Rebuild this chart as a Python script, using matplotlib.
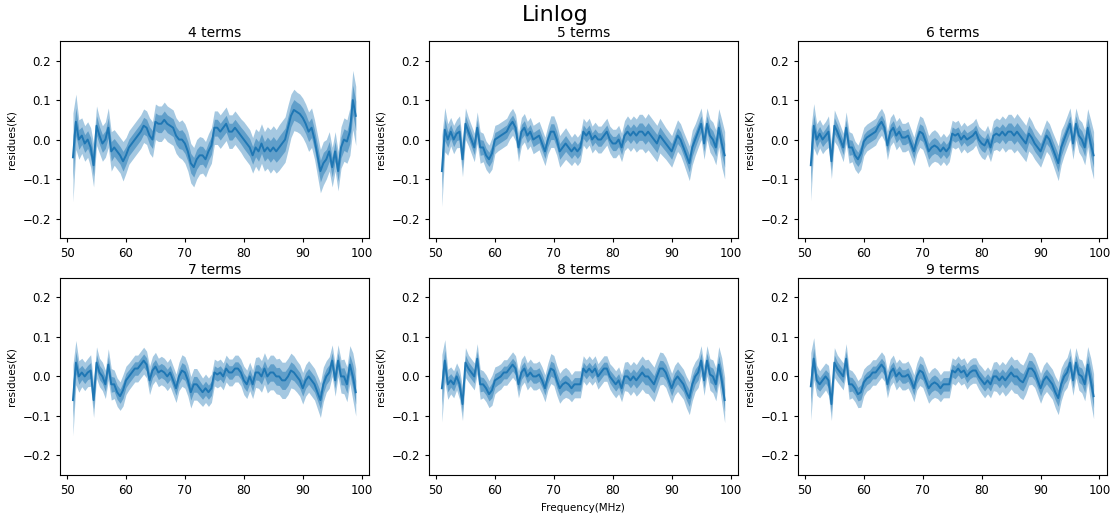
import numpy as np
import matplotlib
matplotlib.use('Agg')
import matplotlib.pyplot as plt

# Frequency grid (MHz), 0.5 MHz steps
freq = np.arange(51.0, 99.01, 0.5)

# Mean residues (K) for each number of fit terms
res_4 = [-0.045, 0.045, 0.0, 0.01, -0.01, 0.0, -0.02, -0.065, 0.035, 0.01,
         -0.01, 0.0, 0.03, -0.03, -0.02, -0.03, -0.04, -0.055, -0.04, -0.02,
         -0.01, 0.0, 0.01, 0.02, 0.035, 0.03, 0.01, 0.0, 0.045, 0.04,
         0.04, 0.05, 0.04, 0.035, 0.03, 0.01, 0.0, 0.0, -0.01, -0.03,
         -0.06, -0.07, -0.05, -0.04, -0.04, -0.05, -0.03, -0.015, 0.03, 0.03,
         0.02, 0.03, 0.04, 0.02, 0.02, 0.03, 0.02, 0.01, 0.0, -0.01,
         -0.02, -0.04, -0.02, -0.03, -0.01, -0.03, -0.02, -0.03, -0.02, -0.03,
         -0.02, -0.01, 0.0, 0.03, 0.06, 0.075, 0.07, 0.065, 0.055, 0.04,
         0.02, 0.03, 0.0, -0.04, -0.08, -0.06, -0.05, -0.03, -0.07, -0.03,
         -0.08, -0.02, 0.0, -0.005, 0.02, 0.1, 0.06]

res_5 = [-0.08, 0.025, 0.0, 0.02, 0.0, 0.015, 0.02, -0.05, 0.04, 0.02,
         0.0, -0.02, 0.03, -0.02, -0.02, -0.04, -0.05, -0.035, 0.0, 0.005,
         0.01, 0.015, 0.02, 0.035, 0.045, 0.03, -0.02, 0.02, 0.03, 0.01,
         0.02, 0.0, 0.005, 0.01, -0.01, -0.03, 0.0, 0.02, 0.02, 0.0,
         -0.03, -0.02, -0.01, -0.02, -0.03, -0.02, -0.03, -0.02, 0.02, 0.01,
         0.02, 0.0, 0.01, 0.0, 0.0, 0.01, 0.02, 0.0, -0.01, -0.01,
         0.0, -0.02, 0.01, 0.02, 0.01, 0.02, 0.01, 0.02, 0.02, 0.01,
         0.02, 0.01, 0.0, -0.01, 0.01, 0.0, -0.01, -0.02, -0.03, -0.01,
         0.01, 0.0, -0.02, -0.04, -0.06, -0.02, 0.0, 0.02, 0.04, -0.01,
         0.04, 0.01, 0.0, -0.02, 0.03, -0.01, -0.04]

res_6 = [-0.065, 0.035, 0.0, 0.015, 0.0, 0.01, 0.02, -0.055, 0.035, 0.02,
         0.0, -0.02, 0.03, -0.02, -0.02, -0.04, -0.05, -0.035, -0.005, 0.005,
         0.01, 0.015, 0.02, 0.035, 0.045, 0.03, -0.015, 0.02, 0.03, 0.01,
         0.02, 0.005, 0.005, 0.01, -0.01, -0.03, 0.0, 0.02, 0.015, -0.005,
         -0.03, -0.02, -0.015, -0.02, -0.03, -0.02, -0.03, -0.02, 0.015, 0.01,
         0.015, 0.0, 0.01, 0.0, 0.005, 0.01, 0.02, 0.0, -0.01, -0.015,
         0.0, -0.02, 0.01, 0.015, 0.01, 0.02, 0.01, 0.02, 0.02, 0.01,
         0.02, 0.01, 0.0, -0.01, 0.015, 0.005, -0.01, -0.02, -0.03, -0.01,
         0.01, 0.0, -0.02, -0.04, -0.06, -0.02, 0.0, 0.02, 0.04, -0.01,
         0.04, 0.01, 0.0, -0.02, 0.03, -0.01, -0.04]

res_7 = [-0.06, 0.035, 0.0, 0.01, 0.0, 0.01, 0.015, -0.06, 0.035, 0.01,
         0.0, -0.02, 0.03, -0.02, -0.02, -0.04, -0.05, -0.035, -0.01, 0.0,
         0.01, 0.02, 0.02, 0.03, 0.04, 0.03, -0.01, 0.015, 0.025, 0.01,
         0.015, 0.01, 0.0, 0.01, -0.01, -0.03, 0.0, 0.015, 0.01, -0.01,
         -0.04, -0.02, -0.02, -0.03, -0.04, -0.03, -0.04, -0.03, 0.01, 0.005,
         0.01, 0.0, 0.02, 0.01, 0.01, 0.02, 0.02, 0.01, -0.01, -0.02,
         0.0, -0.02, 0.01, 0.01, 0.0, 0.02, 0.0, 0.01, 0.01, 0.0,
         0.0, -0.01, -0.01, 0.0, 0.015, 0.01, 0.0, -0.01, -0.03, -0.01,
         0.0, -0.01, -0.02, -0.04, -0.06, -0.02, 0.0, 0.01, 0.04, -0.01,
         0.04, 0.0, 0.0, -0.02, 0.03, 0.0, -0.04]

res_8 = [-0.03, 0.04, -0.02, -0.01, -0.02, 0.0, -0.02, -0.07, 0.035, 0.02,
         0.01, 0.0, 0.045, -0.02, -0.02, -0.03, -0.045, -0.035, -0.01, -0.005,
         0.0, 0.01, 0.01, 0.02, 0.03, 0.02, -0.02, 0.01, 0.02, 0.0,
         0.01, 0.0, 0.0, 0.005, -0.01, -0.03, 0.0, 0.02, 0.015, -0.01,
         -0.03, -0.02, -0.015, -0.02, -0.03, -0.02, -0.02, -0.02, 0.02, 0.01,
         0.02, 0.01, 0.02, 0.0, 0.01, 0.02, 0.02, 0.0, -0.01, -0.02,
         -0.01, -0.03, 0.0, 0.0, -0.01, 0.0, -0.01, 0.0, 0.01, 0.0,
         0.0, -0.01, -0.02, 0.0, 0.02, 0.02, 0.01, -0.01, -0.03, -0.01,
         0.0, -0.01, -0.02, -0.04, -0.055, -0.02, 0.0, 0.01, 0.04, -0.01,
         0.04, 0.005, 0.0, -0.02, 0.03, -0.01, -0.06]

res_9 = [-0.025, 0.045, -0.01, -0.02, -0.01, 0.0, -0.01, -0.07, 0.035, 0.02,
         0.01, 0.0, 0.045, -0.02, -0.02, -0.03, -0.045, -0.04, -0.015, -0.005,
         0.0, 0.01, 0.01, 0.02, 0.03, 0.02, -0.02, 0.01, 0.02, 0.0,
         0.01, 0.0, 0.0, 0.005, -0.01, -0.03, 0.0, 0.015, 0.01, -0.01,
         -0.03, -0.02, -0.015, -0.02, -0.03, -0.02, -0.02, -0.02, 0.015, 0.01,
         0.02, 0.01, 0.015, 0.0, 0.01, 0.015, 0.015, 0.0, -0.01, -0.02,
         -0.01, -0.02, 0.0, 0.0, -0.01, 0.0, -0.01, 0.0, 0.01, 0.0,
         0.0, -0.01, -0.015, 0.0, 0.02, 0.02, 0.01, -0.01, -0.03, -0.01,
         0.0, -0.01, -0.02, -0.04, -0.055, -0.02, 0.0, 0.01, 0.035, -0.01,
         0.035, 0.005, 0.0, -0.02, 0.03, -0.01, -0.05]

# 1-sigma spread of the residues along the band
sigma = [0.045, 0.028, 0.02, 0.018, 0.018, 0.018, 0.02, 0.022, 0.02, 0.018,
         0.018, 0.018, 0.02, 0.02, 0.018, 0.018, 0.018, 0.02, 0.018, 0.017,
         0.017, 0.017, 0.017, 0.017, 0.017, 0.017, 0.018, 0.018, 0.018, 0.018,
         0.018, 0.018, 0.018, 0.018, 0.018, 0.018, 0.018, 0.02, 0.02, 0.02,
         0.02, 0.02, 0.02, 0.019, 0.018, 0.018, 0.018, 0.018, 0.017, 0.017,
         0.017, 0.017, 0.017, 0.017, 0.017, 0.017, 0.017, 0.017, 0.018, 0.018,
         0.018, 0.018, 0.019, 0.02, 0.02, 0.02, 0.021, 0.022, 0.022, 0.022,
         0.023, 0.023, 0.023, 0.023, 0.022, 0.021, 0.02, 0.02, 0.02, 0.02,
         0.02, 0.02, 0.02, 0.021, 0.022, 0.022, 0.02, 0.02, 0.02, 0.02,
         0.02, 0.021, 0.022, 0.022, 0.024, 0.03, 0.03]

n_terms = [4, 5, 6, 7, 8, 9]
residues = [res_4, res_5, res_6, res_7, res_8, res_9]
sigma_scale = [1.25, 1.0, 1.0, 1.0, 0.95, 0.95]

fig, axes = plt.subplots(2, 3, figsize=(11.11, 5.17), dpi=100)
fig.subplots_adjust(left=0.054, right=0.996, top=0.921, bottom=0.081,
                    wspace=0.195, hspace=0.2)

sig = np.array(sigma)
for ax, n, res, k in zip(axes.flat, n_terms, residues, sigma_scale):
    res = np.array(res)
    s = sig * k
    ax.fill_between(freq, res - 2 * s, res + 2 * s, color='C0', alpha=0.4, lw=0)
    ax.fill_between(freq, res - s, res + s, color='C0', alpha=0.5, lw=0)
    ax.plot(freq, res, color='C0', lw=1.4)
    ax.set_ylim(-0.25, 0.25)
    ax.set_xlim(48.8, 101.2)
    ax.set_yticks([-0.2, -0.1, 0.0, 0.1, 0.2])
    ax.set_xticks([50, 60, 70, 80, 90, 100])
    ax.tick_params(labelsize=8.5, length=3)
    ax.set_title('%d terms' % n, fontsize=10, pad=3)
    ax.set_ylabel('residues(K)', fontsize=7.5)

axes[1, 1].set_xlabel('Frequency(MHz)', fontsize=7.5)
fig.suptitle('Linlog', fontsize=16, y=0.99)

fig.savefig('out.png', dpi=100)
